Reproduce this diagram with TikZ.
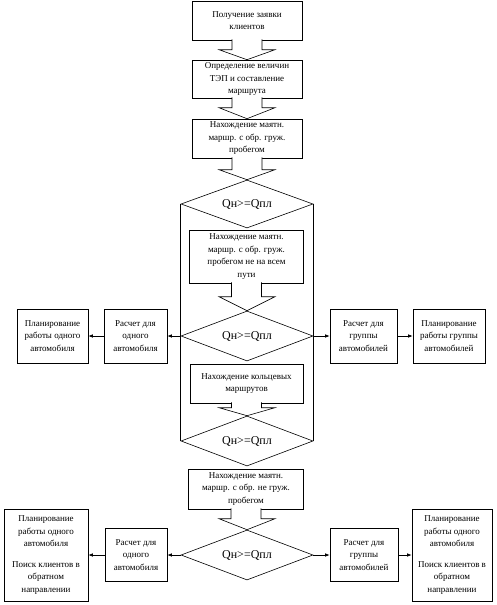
\documentclass[tikz,border=0pt]{standalone}
\usepackage{fontspec}
\setmainfont{Liberation Serif}
\usetikzlibrary{shapes.geometric,arrows.meta,calc}

\begin{document}
\begin{tikzpicture}[x=1pt,y=-1pt,line width=0.6pt,
    box/.style={draw,align=center,inner sep=1pt,font=\fontsize{9}{12.5}\selectfont},
    cond/.style={draw,diamond,aspect=2.7,inner sep=0pt,minimum width=132pt,minimum height=50pt,font=\fontsize{12}{14}\selectfont},
    blk/.style={draw,fill=white},
    arr/.style={-{Latex[length=4.5pt,width=3.5pt]}}]
    \useasboundingbox (0,0) rectangle (496,605);
    % main column
    \node[box,minimum width=110pt,minimum height=39pt] (get) at (247,20.5) {Получение заявки\\клиентов};
    \node[box,minimum width=110pt,minimum height=38pt] (tep) at (247,79) {Определение величин\\ТЭП и составление\\маршрута};
    \node[box,minimum width=110pt,minimum height=39pt] (mayat) at (247,138.5) {Нахождение маятн.\\маршр. с обр. груж.\\пробегом};
    \node[cond,minimum height=48pt] (d1) at (247,204) {Qн>=Qпл};
    \node[box,minimum width=114pt,minimum height=53pt] (mayat2) at (246.5,256.5) {Нахождение маятн.\\маршр. с обр. груж.\\пробегом не на всем\\пути};
    \node[cond] (d2) at (247,336) {Qн>=Qпл};
    \node[box,minimum width=113pt,minimum height=39pt] (ring) at (246.5,383.5) {Нахождение кольцевых\\маршрутов};
    \node[cond] (d3) at (247,441) {Qн>=Qпл};
    \node[box,minimum width=115pt,minimum height=40pt] (mayat3) at (246,489) {Нахождение маятн.\\маршр. с обр. не груж.\\пробегом};
    \node[cond] (d4) at (247,555) {Qн>=Qпл};
    % side boxes
    \node[box,minimum width=63pt,minimum height=54pt] (one1) at (135.5,336) {Расчет для\\одного\\автомобиля};
    \node[box,minimum width=71pt,minimum height=54pt] (plan1) at (52.5,336) {Планирование\\работы одного\\автомобиля};
    \node[box,minimum width=67pt,minimum height=54pt] (grp1) at (363.5,336) {Расчет для\\группы\\автомобилей};
    \node[box,minimum width=72pt,minimum height=54pt] (plangrp1) at (449,336) {Планирование\\работы группы\\автомобилей};
    \node[box,minimum width=62pt,minimum height=53pt] (one2) at (136,555) {Расчет для\\одного\\автомобиля};
    \node[box,minimum width=84pt,minimum height=92pt] (plan2) at (46,555) {Планирование\\работы одного\\автомобиля\\[8pt]Поиск клиентов в\\обратном\\направлении};
    \node[box,minimum width=68pt,minimum height=53pt] (grp2) at (364,555) {Расчет для\\группы\\автомобилей};
    \node[box,minimum width=80pt,minimum height=92pt] (plan3) at (452,555) {Планирование\\работы одного\\автомобиля\\[8pt]Поиск клиентов в\\обратном\\направлении};
    % block arrows
    \foreach \b/\t/\h in {get/tep/10, tep/mayat/11, mayat/d1/10, mayat2/d2/14, ring/d3/8, mayat3/d4/11}
        \draw[blk] ($(\b.south)+(-15,-1)$) |- ($(\t.north)+(-28,-\h)$) -- (\t.north)
            -- ($(\t.north)+(28,-\h)$) -| ($(\b.south)+(15,-1)$);
    % frame round the loop
    \draw (d1.west) -- (d3.west);
    \draw (d1.east) -- (d3.east);
    % side arrows
    \draw[arr] (d2.west) -- (one1.east);
    \draw[arr] (one1.west) -- (plan1.east);
    \draw[arr] (d2.east) -- (grp1.west);
    \draw[arr] (grp1.east) -- (plangrp1.west);
    \draw[arr] (d4.west) -- (one2.east);
    \draw[arr] (one2.west) -- (plan2.east);
    \draw[arr] (d4.east) -- (grp2.west);
    \draw[arr] (grp2.east) -- (plan3.west);
\end{tikzpicture}
\end{document}
